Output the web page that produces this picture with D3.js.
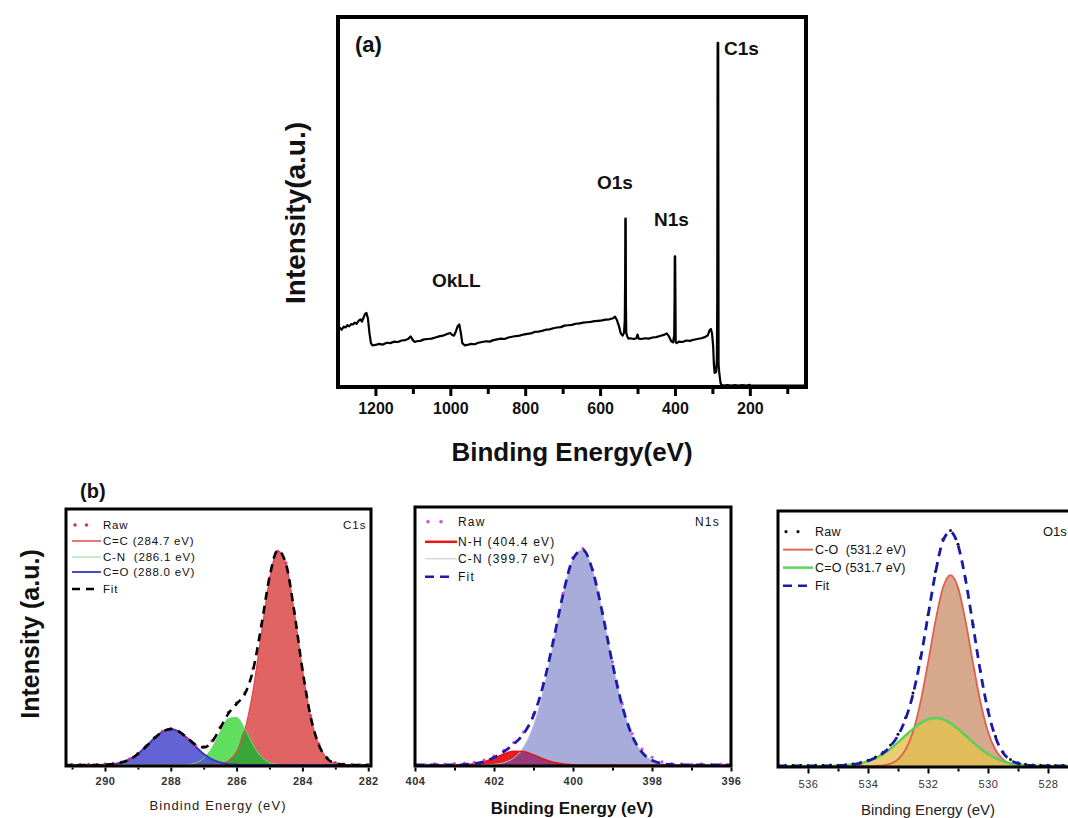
<!DOCTYPE html>
<html><head><meta charset="utf-8">
<script src="https://cdn.jsdelivr.net/npm/d3@7"></script>
<style>
body{margin:0;background:#fff;}
svg{display:block;}
text{font-family:"Liberation Sans",Arial,Helvetica,sans-serif;white-space:pre;}
</style>
</head><body>
<svg id="c" width="1068" height="818"></svg>
<script>
// ---------------- DATA ----------------
// (a) survey spectrum: [binding energy eV, intensity a.u.]
const surveyData = [[1300,15.5],[1295,15.9],[1290,15.4],[1285,16.2],[1280,16.0],[1275,16.6],[1270,16.3],[1265,16.9],[1260,16.8],[1255,17.3],[1250,17.0],[1245,17.8],[1240,18.2],[1236,17.6],[1232,18.6],[1228,19.6],[1224,19.9],[1220,18.4],[1216,14.5],[1212,11.8],[1208,11.2],[1200,11.3],[1190,11.6],[1180,11.4],[1170,11.9],[1160,11.8],[1150,12.2],[1140,12.1],[1130,12.5],[1120,12.6],[1112,13.0],[1106,13.6],[1100,12.6],[1095,12.1],[1090,12.3],[1080,12.4],[1070,12.8],[1060,12.9],[1050,13.0],[1040,13.3],[1030,13.6],[1020,13.8],[1010,14.2],[1000,14.5],[995,14.0],[990,13.8],[985,15.0],[980,16.4],[976,16.8],[972,14.6],[968,11.8],[962,11.2],[955,11.3],[945,11.6],[935,11.5],[925,11.9],[915,12.1],[905,12.3],[895,12.2],[885,12.6],[875,12.8],[865,13.0],[855,12.9],[845,13.3],[835,13.5],[825,13.7],[815,13.8],[805,14.1],[795,14.3],[785,14.4],[775,14.8],[765,14.9],[755,15.1],[745,15.4],[735,15.5],[725,15.8],[715,16.0],[705,16.1],[695,16.5],[685,16.6],[675,16.7],[665,17.0],[655,17.1],[645,17.3],[635,17.4],[625,17.5],[615,17.7],[605,17.8],[595,17.9],[585,18.1],[575,18.2],[565,18.5],[560,18.9],[555,18.0],[550,16.5],[545,14.5],[540,13.8],[536,14.6],[534,18],[533,30],[532.5,45.3],[531.5,45.3],[531,22],[530,14.5],[527,13.5],[524,13.0],[520,13.1],[510,12.9],[503,13.1],[500,14.1],[497,13.0],[490,12.9],[480,13.1],[470,13.0],[460,13.3],[450,13.4],[440,13.7],[430,14.0],[422,14.4],[416,13.6],[410,12.3],[405,12.0],[402,14.0],[401,24],[400.5,35.1],[399.5,35.1],[398,12.0],[395,11.8],[390,12.2],[380,12.1],[370,12.5],[360,12.4],[350,12.7],[340,12.9],[330,13.1],[320,13.4],[312,13.9],[308,15.2],[304,15.6],[301,14.4],[298,11.0],[296,6.0],[294,3.8],[292,5.2],[290,4.0],[288,7.5],[287,24],[286,92.5],[284.5,92.5],[283.5,6.0],[282,4.2],[280,2.4],[278,1.0],[276,0.6],[270,0.4],[260,0.5],[250,0.4],[240,0.5],[230,0.4],[220,0.5],[210,0.4],[200,0.6],[198,0.4],[190,0.4],[150,0.4],[100,0.4],[50,0.4]];
const surveyMajorTicks = [1200,1000,800,600,400,200];
const surveyMinorTicks = [1100,900,700,500,300,100];
const surveyPeakLabels = [["C1s",285],["O1s",532],["N1s",400],["OkLL",975]];

// (b) C1s
const c1sEV  = [291.25,291,290.75,290.5,290.25,290,289.75,289.5,289.25,289,288.75,288.5,288.25,288,287.75,287.5,287.25,287,286.75,286.5,286.25,286,285.75,285.5,285.25,285,284.75,284.5,284.25,284,283.75,283.5,283.25,283,282.75,282.5,282.25,282];
const c1sCC  = [0,0,0,0,0,0,0,0,0,0,0,0,0,0,0,0,0,0,0.1,0.5,1.9,6.1,16.2,34.7,60.7,86.2,99.6,93.6,71.6,44.5,22.5,9.3,3.1,0.8,0.2,0,0,0];
const c1sCN  = [0,0,0,0,0,0,0,0,0,0,0,0,0,0,0,0.2,0.9,3.1,8.0,15.4,21.6,22.2,16.8,9.4,3.8,1.1,0.25,0,0,0,0,0,0,0,0,0,0,0];
const c1sCO  = [0,0,0,0,0,0.15,0.4,1.2,2.6,5.1,8.6,12.4,15.5,16.7,15.5,12.4,8.6,5.1,2.6,1.2,0.4,0.15,0,0,0,0,0,0,0,0,0,0,0,0,0,0,0,0];
const c1sFit = [0,0,0,0,0,0.15,0.4,1.2,2.6,5.1,8.6,12.4,15.5,16.7,15.5,12.6,9.5,8.2,10.7,17.1,23.9,28.45,33.0,44.1,64.5,87.3,99.85,93.6,71.6,44.5,22.5,9.3,3.1,0.8,0.2,0,0,0];
const c1sRaw = [0.3,0.2,0.1,0.3,0.2,0.4,0.6,1.4,2.9,5.4,8.9,12.6,15.7,16.9,15.3,12.2,9.1,8.6,11.2,17.6,24.5,28.9,33.6,44.8,65.1,87.0,99.4,93.9,71.2,44.1,22.9,9.8,3.5,1.1,0.4,0.2,0.1,0.2];
const c1sTicks = [290,288,286,284,282];
const c1sMinor = [291,289,287,285,283];

// (b) N1s
const n1sEV  = [404,403.75,403.5,403.25,403,402.75,402.5,402.25,402,401.75,401.5,401.25,401,400.75,400.5,400.25,400,399.75,399.5,399.25,399,398.75,398.5,398.25,398,397.75,397.5,397.25,397,396.75,396.5,396.25,396];
const n1sNH  = [0,0,0,0,0,0.2,0.6,1.5,3.2,5.1,6.4,6.2,4.7,2.8,1.3,0.5,0.1,0,0,0,0,0,0,0,0,0,0,0,0,0,0,0,0];
const n1sCN  = [0,0,0,0,0,0,0,0,0.3,1.1,3.3,8.3,18.2,34.4,56.0,78.7,95.4,99.7,89.9,69.9,46.9,27.1,13.5,5.8,2.2,0.7,0.2,0,0,0,0,0,0];
const n1sFit = [0,0,0,0,0,0.2,0.6,1.5,3.5,6.2,9.7,14.5,22.9,37.2,57.3,79.2,95.5,99.7,89.9,69.9,46.9,27.1,13.5,5.8,2.2,0.7,0.2,0,0,0,0,0,0];
const n1sRaw = [0.4,0.2,0.5,0.3,0.6,0.9,1.2,2.3,4.1,6.8,10.4,15.2,23.5,37.9,57.0,79.6,96.2,100.3,90.4,70.5,47.8,28.3,14.6,7.4,3.6,1.5,0.7,0.5,0.3,0.4,0.2,0.3,0.2];
const n1sTicks = [404,402,400,398,396];
const n1sMinor = [403,401,399,397];

// (b) O1s
const o1sEV  = [537,536.75,536.5,536.25,536,535.75,535.5,535.25,535,534.75,534.5,534.25,534,533.75,533.5,533.25,533,532.75,532.5,532.25,532,531.75,531.5,531.25,531,530.75,530.5,530.25,530,529.75,529.5,529.25,529,528.75,528.5,528.25,528,527.75,527.5,527.25,527];
const o1sCO  = [0,0,0,0,0,0,0,0,0,0,0,0,0,0.1,0.3,1.1,3.1,7.6,16.1,29.9,48.3,68.0,83.6,89.5,83.6,68.0,48.3,29.9,16.1,7.6,3.1,1.1,0.3,0.1,0,0,0,0,0,0,0];
const o1sCdO = [0,0,0,0,0,0,0,0,0.2,0.4,0.7,1.3,2.3,3.7,5.6,8.1,11.1,14.3,17.4,20.1,21.9,22.5,21.9,20.1,17.4,14.3,11.1,8.1,5.6,3.7,2.3,1.3,0.7,0.4,0.2,0,0,0,0,0,0];
const o1sFit = [0,0,0,0,0,0,0,0,0.2,0.4,0.7,1.3,2.4,3.9,6.0,9.3,14.3,22.0,33.6,50.1,70.3,90.6,105.6,109.8,103.5,87.5,66.0,44.0,26.0,13.5,6.2,2.8,1.2,0.5,0.2,0,0,0,0,0,0];
const o1sRaw = [0.3,0.2,0.4,0.3,0.2,0.4,0.3,0.5,0.4,0.6,0.9,1.6,2.7,4.2,6.4,9.8,14.9,22.6,34.2,50.8,70.9,91.2,106.3,110.4,103.9,87.9,66.4,44.5,26.4,13.9,6.6,3.1,1.5,0.8,0.5,0.3,0.4,0.2,0.3,0.2,0.3];
const o1sTicks = [536,534,532,530,528];
const o1sMinor = [535,533,531,529];

// ---------------- DRAW ----------------
const svg = d3.select('#c');
const defs = svg.append('defs');
const zip = (ev, v) => ev.map((e, i) => [e, v[i]]);
const minZip = (ev, a, b) => ev.map((e, i) => [e, Math.min(a[i], b[i])]);

function clip(id, x, y, w, h) {
  defs.append('clipPath').attr('id', id).append('rect')
    .attr('x', x).attr('y', y).attr('width', w).attr('height', h);
  return `url(#${id})`;
}
function fillArea(g, data, x, y, color, op) {
  g.append('path').datum(data)
    .attr('d', d3.area().x(d => x(d[0])).y0(y(0)).y1(d => y(d[1])).curve(d3.curveMonotoneX))
    .attr('fill', color).attr('fill-opacity', op == null ? 1 : op).attr('stroke', 'none');
}
function strokeLine(g, data, x, y, color, w, dash) {
  const p = g.append('path').datum(data)
    .attr('d', d3.line().x(d => x(d[0])).y(d => y(d[1])).curve(d3.curveMonotoneX))
    .attr('fill', 'none').attr('stroke', color).attr('stroke-width', w)
    .attr('stroke-linejoin', 'round');
  if (dash) p.attr('stroke-dasharray', dash);
}
function rawDots(g, data, x, y, color, r) {
  g.selectAll(null).data(data).enter().append('circle')
    .attr('cx', d => x(d[0])).attr('cy', d => y(d[1])).attr('r', r).attr('fill', color);
}
function bottomAxis(yPos, x, major, minor, majorLen, minorLen, tw, pad, fs, weight, color, ls) {
  const gm = svg.append('g').attr('transform', `translate(0,${yPos})`)
    .call(d3.axisBottom(x).tickValues(minor).tickSize(minorLen).tickFormat(''));
  gm.select('.domain').remove();
  gm.selectAll('line').attr('stroke', '#000').attr('stroke-width', tw);
  const g = svg.append('g').attr('transform', `translate(0,${yPos})`)
    .call(d3.axisBottom(x).tickValues(major).tickSize(majorLen).tickPadding(pad).tickFormat(d3.format('d')));
  g.select('.domain').remove();
  g.selectAll('line').attr('stroke', '#000').attr('stroke-width', tw);
  g.selectAll('text').attr('font-size', fs).attr('font-weight', weight).attr('fill', color)
    .attr('font-family', '"Liberation Sans",Arial,sans-serif').attr('letter-spacing', ls || 0);
}
function legend(rows, sx0, sx1, tx, fs, ls) {
  const g = svg.append('g');
  rows.forEach(r => {
    const cy = r.y - fs * 0.35;
    if (r.type === 'dots') {
      [sx0 + 3, sx0 + 0.5 * (sx1 - sx0)].forEach(cx =>
        g.append('circle').attr('cx', cx).attr('cy', cy).attr('r', r.r || 1.8).attr('fill', r.color));
    } else {
      const l = g.append('line').attr('x1', sx0).attr('x2', r.dash ? sx1 - 6 : sx1).attr('y1', cy).attr('y2', cy)
        .attr('stroke', r.color).attr('stroke-width', r.w);
      if (r.dash) l.attr('stroke-dasharray', r.dash);
    }
    g.append('text').attr('x', tx).attr('y', r.y).attr('font-size', fs)
      .attr('letter-spacing', ls).attr('fill', '#111').text(r.label);
  });
}
function text(x, y, s, fs, weight, anchor, extra) {
  const t = svg.append('text').attr('x', x).attr('y', y).attr('font-size', fs)
    .attr('font-weight', weight || 'normal').attr('text-anchor', anchor || 'start').attr('fill', '#111').text(s);
  if (extra) extra(t);
  return t;
}

// ===== Panel (a) =====
{
  const L = 338, R = 806, T = 17, B = 387;
  const x = d3.scaleLinear().domain([1300, 50]).range([L, R]);
  const y = d3.scaleLinear().domain([0, 100]).range([B, 15]);
  const g = svg.append('g').attr('clip-path', clip('ca', L, T, R - L, B - T));
  g.append('path').datum(surveyData)
    .attr('d', d3.line().x(d => x(d[0])).y(d => y(d[1])))
    .attr('fill', 'none').attr('stroke', '#000').attr('stroke-width', 2.2).attr('stroke-linejoin', 'round');
  svg.append('rect').attr('x', L).attr('y', T).attr('width', R - L).attr('height', B - T)
    .attr('fill', 'none').attr('stroke', '#000').attr('stroke-width', 4);
  bottomAxis(B + 2, x, surveyMajorTicks, surveyMinorTicks, 7, 5, 3, 7, 16, 'bold', '#111', 0);
  text(572, 461, 'Binding Energy(eV)', 26, 'bold', 'middle');
  text(0, 0, 'Intensity(a.u.)', 28, 'bold', 'middle', t => t.attr('transform', 'translate(305,213) rotate(-90)'));
  text(355, 52, '(a)', 22, 'bold');
  const lab = {C1s: [724, 55], O1s: [597, 189], N1s: [654, 226], OkLL: [432, 287]};
  surveyPeakLabels.forEach(([s]) => text(lab[s][0], lab[s][1], s, 19, 'bold'));
}

// ===== (b) common =====
text(80, 498, '(b)', 20, 'bold');
text(0, 0, 'Intensity (a.u.)', 25, 'bold', 'middle', t => t.attr('transform', 'translate(39,634) rotate(-90)'));

// ===== C1s =====
{
  const L = 66, R = 371, T = 509, B = 766;
  const x = d3.scaleLinear().domain([291.2, 281.9]).range([65.5, 371.5]);
  const y = d3.scaleLinear().domain([0, 120]).range([765, 507]);
  const g = svg.append('g').attr('clip-path', clip('cc', L, T, R - L, B - T));
  fillArea(g, zip(c1sEV, c1sCC), x, y, '#e06464');
  fillArea(g, zip(c1sEV, c1sCN), x, y, '#60de60');
  fillArea(g, minZip(c1sEV, c1sCC, c1sCN), x, y, '#3aa63a');
  fillArea(g, zip(c1sEV, c1sCO), x, y, '#5252d2', 0.9);
  strokeLine(g, zip(c1sEV, c1sCC), x, y, '#e04a4a', 1.2);
  strokeLine(g, zip(c1sEV, c1sCN), x, y, '#6fd86f', 1);
  strokeLine(g, zip(c1sEV, c1sCO), x, y, '#3a3ab8', 2);
  rawDots(g, zip(c1sEV, c1sRaw), x, y, '#d2307a', 1.6);
  strokeLine(g, zip(c1sEV, c1sFit), x, y, '#000', 2.6, '8,6');
  svg.append('rect').attr('x', L).attr('y', T).attr('width', R - L).attr('height', B - T)
    .attr('fill', 'none').attr('stroke', '#000').attr('stroke-width', 3);
  bottomAxis(B + 1.5, x, c1sTicks, c1sMinor, 4, 2, 2, 6, 11, 'bold', '#333', 0.5);
  text(218, 810, 'Bindind Energy (eV)', 13, 'normal', 'middle', t => t.attr('letter-spacing', 1.1).attr('fill', '#222'));
  legend([
    {type: 'dots', color: '#d2307a', label: 'Raw', y: 529},
    {type: 'line', color: '#e04a4a', w: 1.5, label: 'C=C (284.7 eV)', y: 545},
    {type: 'line', color: '#8ad88a', w: 1, label: 'C-N  (286.1 eV)', y: 561},
    {type: 'line', color: '#4a4ac8', w: 2, label: 'C=O (288.0 eV)', y: 576},
    {type: 'line', color: '#000', w: 2.5, dash: '8,6', label: 'Fit', y: 593}
  ], 72, 101, 103, 11.5, 0.8);
  text(343, 529, 'C1s', 11.5, 'normal', 'start', t => t.attr('letter-spacing', 1));
}

// ===== N1s =====
{
  const L = 415, R = 731, T = 507, B = 766;
  const x = d3.scaleLinear().domain([404, 396]).range([L, R]);
  const y = d3.scaleLinear().domain([0, 120]).range([765, 506]);
  const g = svg.append('g').attr('clip-path', clip('cn', L, T, R - L, B - T));
  fillArea(g, zip(n1sEV, n1sNH), x, y, '#e81c1c');
  fillArea(g, zip(n1sEV, n1sCN), x, y, '#a8acda');
  fillArea(g, minZip(n1sEV, n1sNH, n1sCN), x, y, '#9a3a7a');
  strokeLine(g, zip(n1sEV, n1sCN), x, y, '#b8bcdc', 1);
  strokeLine(g, zip(n1sEV, n1sNH), x, y, '#e01414', 1.5);
  rawDots(g, zip(n1sEV, n1sRaw), x, y, '#d84ad8', 1.6);
  strokeLine(g, zip(n1sEV, n1sFit), x, y, '#1c1cac', 2.8, '9,6');
  svg.append('rect').attr('x', L).attr('y', T).attr('width', R - L).attr('height', B - T)
    .attr('fill', 'none').attr('stroke', '#000').attr('stroke-width', 3);
  bottomAxis(B + 1.5, x, n1sTicks, n1sMinor, 4, 3, 2, 6, 11, 'bold', '#333', 0.5);
  text(572, 814, 'Binding Energy (eV)', 17, 'bold', 'middle');
  legend([
    {type: 'dots', color: '#d84ad8', label: 'Raw', y: 526},
    {type: 'line', color: '#e81818', w: 2.5, label: 'N-H (404.4 eV)', y: 546},
    {type: 'line', color: '#c4c6d6', w: 1, label: 'C-N (399.7 eV)', y: 563},
    {type: 'line', color: '#1c1cac', w: 2.5, dash: '9,6', label: 'Fit', y: 581}
  ], 425, 457, 458, 12, 1.2);
  text(695, 526, 'N1s', 12, 'normal', 'start', t => t.attr('letter-spacing', 1.2));
}

// ===== O1s =====
{
  const L = 778, R = 1078, T = 511, B = 767;
  const x = d3.scaleLinear().domain([537, 527]).range([L, R]);
  const y = d3.scaleLinear().domain([0, 120]).range([766, 510]);
  const g = svg.append('g').attr('clip-path', clip('co', L, T, R - L, B - T));
  fillArea(g, zip(o1sEV, o1sCO), x, y, '#d6a88c');
  fillArea(g, zip(o1sEV, o1sCdO), x, y, '#e2c24e', 0.8);
  strokeLine(g, zip(o1sEV, o1sCO), x, y, '#e06050', 1.8);
  strokeLine(g, zip(o1sEV, o1sCdO), x, y, '#5ad05a', 2.4);
  rawDots(g, zip(o1sEV, o1sRaw), x, y, '#111', 1.5);
  strokeLine(g, zip(o1sEV, o1sFit), x, y, '#1a1aa8', 2.8, '9,6');
  svg.append('rect').attr('x', L).attr('y', T).attr('width', R - L).attr('height', B - T)
    .attr('fill', 'none').attr('stroke', '#000').attr('stroke-width', 3);
  bottomAxis(B + 1.5, x, o1sTicks, o1sMinor, 5, 3, 2, 7, 11, 'normal', '#333', 0.5);
  text(928, 815, 'Binding Energy (eV)', 15, 'normal', 'middle', t => t.attr('fill', '#222'));
  legend([
    {type: 'dots', color: '#111', label: 'Raw', y: 536, r: 1.6},
    {type: 'line', color: '#e06858', w: 2, label: 'C-O  (531.2 eV)', y: 554},
    {type: 'line', color: '#5cd65c', w: 2.5, label: 'C=O (531.7 eV)', y: 572},
    {type: 'line', color: '#1a1aa8', w: 2.5, dash: '9,6', label: 'Fit', y: 590}
  ], 783, 813, 815, 12.5, 0.2);
  text(1043, 536, 'O1s', 13, 'normal');
}
</script>
</body></html>
